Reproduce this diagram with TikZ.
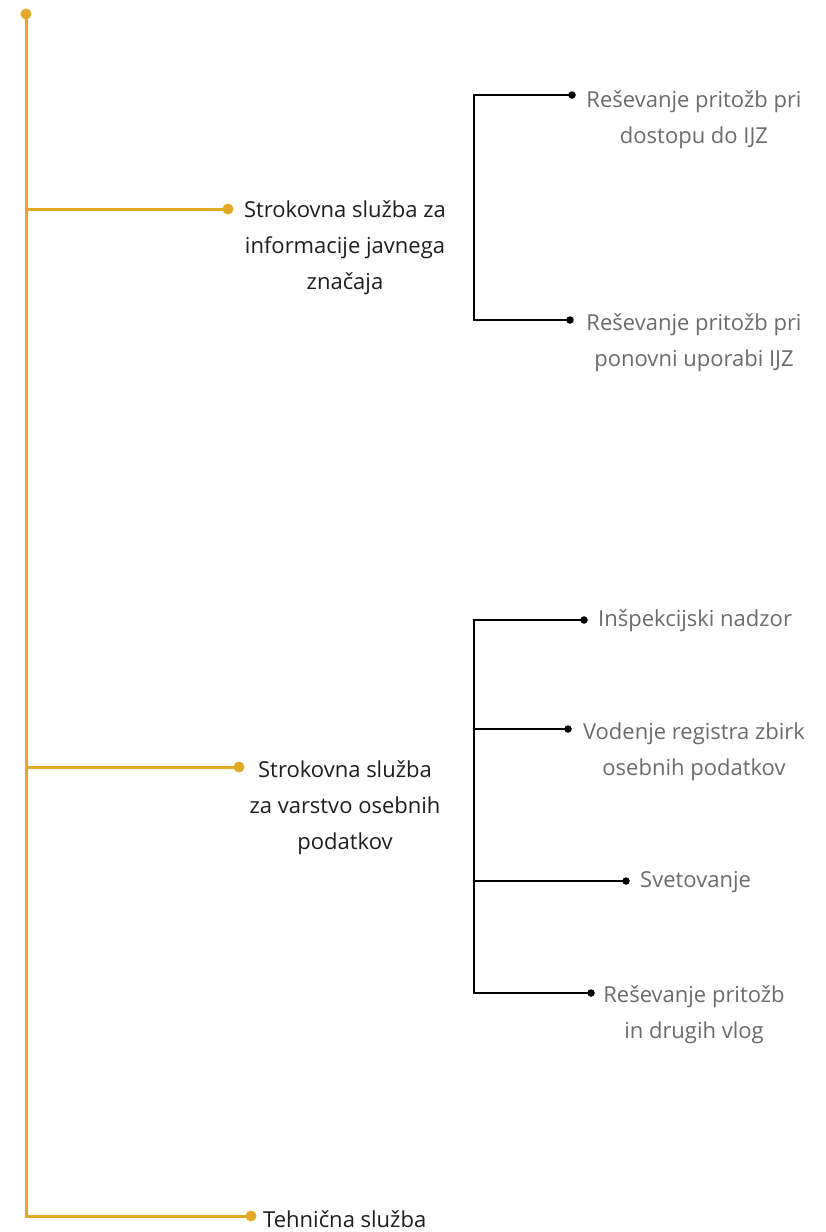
\documentclass[tikz,border=0pt]{standalone}
\usepackage{fontspec}
\setmainfont{Open Sans}
\definecolor{gold}{HTML}{E2AA22}
\definecolor{txtgray}{HTML}{6B6B6B}
\definecolor{txtdark}{HTML}{1E1E1E}
\begin{document}
\begin{tikzpicture}[x=1pt,y=-1pt,
  goldline/.style={draw=gold,line width=3pt},
  golddot/.style={circle,fill=gold,inner sep=0pt,minimum size=11pt},
  blkline/.style={draw=black,line width=1.8pt},
  blkdot/.style={circle,fill=black,inner sep=0pt,minimum size=7.5pt},
  maintxt/.style={font=\fontsize{22}{36}\selectfont,text=txtdark,align=center,inner sep=0pt},
  subtxt/.style={font=\fontsize{22}{36}\selectfont,text=txtgray,align=center,inner sep=0pt}]
\useasboundingbox[fill=white] (0,0) rectangle (825,1232);

% gold trunk
\node[golddot] (top) at (26,14) {};
\coordinate (j1) at (26,209);
\coordinate (j2) at (26,767);
\coordinate (bot) at (26,1216);
\node[golddot] (d1) at (228,209) {};
\node[golddot] (d2) at (239,767) {};
\node[golddot] (d3) at (251,1216) {};
\draw[goldline] (top.center) -- (bot) -- (d3.center);
\draw[goldline] (j1) -- (d1.center);
\draw[goldline] (j2) -- (d2.center);

\node[maintxt] (m1) at (345,248) {Strokovna služba za\\informacije javnega\\značaja};
\node[maintxt] (m2) at (345,808) {Strokovna služba\\za varstvo osebnih\\podatkov};
\node[maintxt,anchor=west] (m3) at (263,1219) {Tehnična služba};

% first bracket
\coordinate (b1t) at (474,95);
\coordinate (b1b) at (474,320);
\node[blkdot] (e1) at (572,95) {};
\node[blkdot] (e2) at (570,320) {};
\draw[blkline] (e1.center) -- (b1t) -- (b1b) -- (e2.center);
\node[subtxt] (s1) at (694,120) {Reševanje pritožb pri\\dostopu do IJZ};
\node[subtxt] (s2) at (694,343) {Reševanje pritožb pri\\ponovni uporabi IJZ};

% second bracket
\coordinate (b2t) at (474,620);
\coordinate (b2b) at (474,993);
\coordinate (k4) at (474,729);
\coordinate (k5) at (474,881);
\node[blkdot] (e3) at (584,620) {};
\node[blkdot] (e4) at (568,729) {};
\node[blkdot] (e5) at (626,881) {};
\node[blkdot] (e6) at (591,993) {};
\draw[blkline] (e3.center) -- (b2t) -- (b2b) -- (e6.center);
\draw[blkline] (k4) -- (e4.center);
\draw[blkline] (k5) -- (e5.center);
\node[subtxt,anchor=west] (s3) at (598,621) {Inšpekcijski nadzor};
\node[subtxt] (s4) at (694,752) {Vodenje registra zbirk\\osebnih podatkov};
\node[subtxt,anchor=west] (s5) at (640,882) {Svetovanje};
\node[subtxt] (s6) at (694,1015) {Reševanje pritožb\\in drugih vlog};
\end{tikzpicture}
\end{document}
